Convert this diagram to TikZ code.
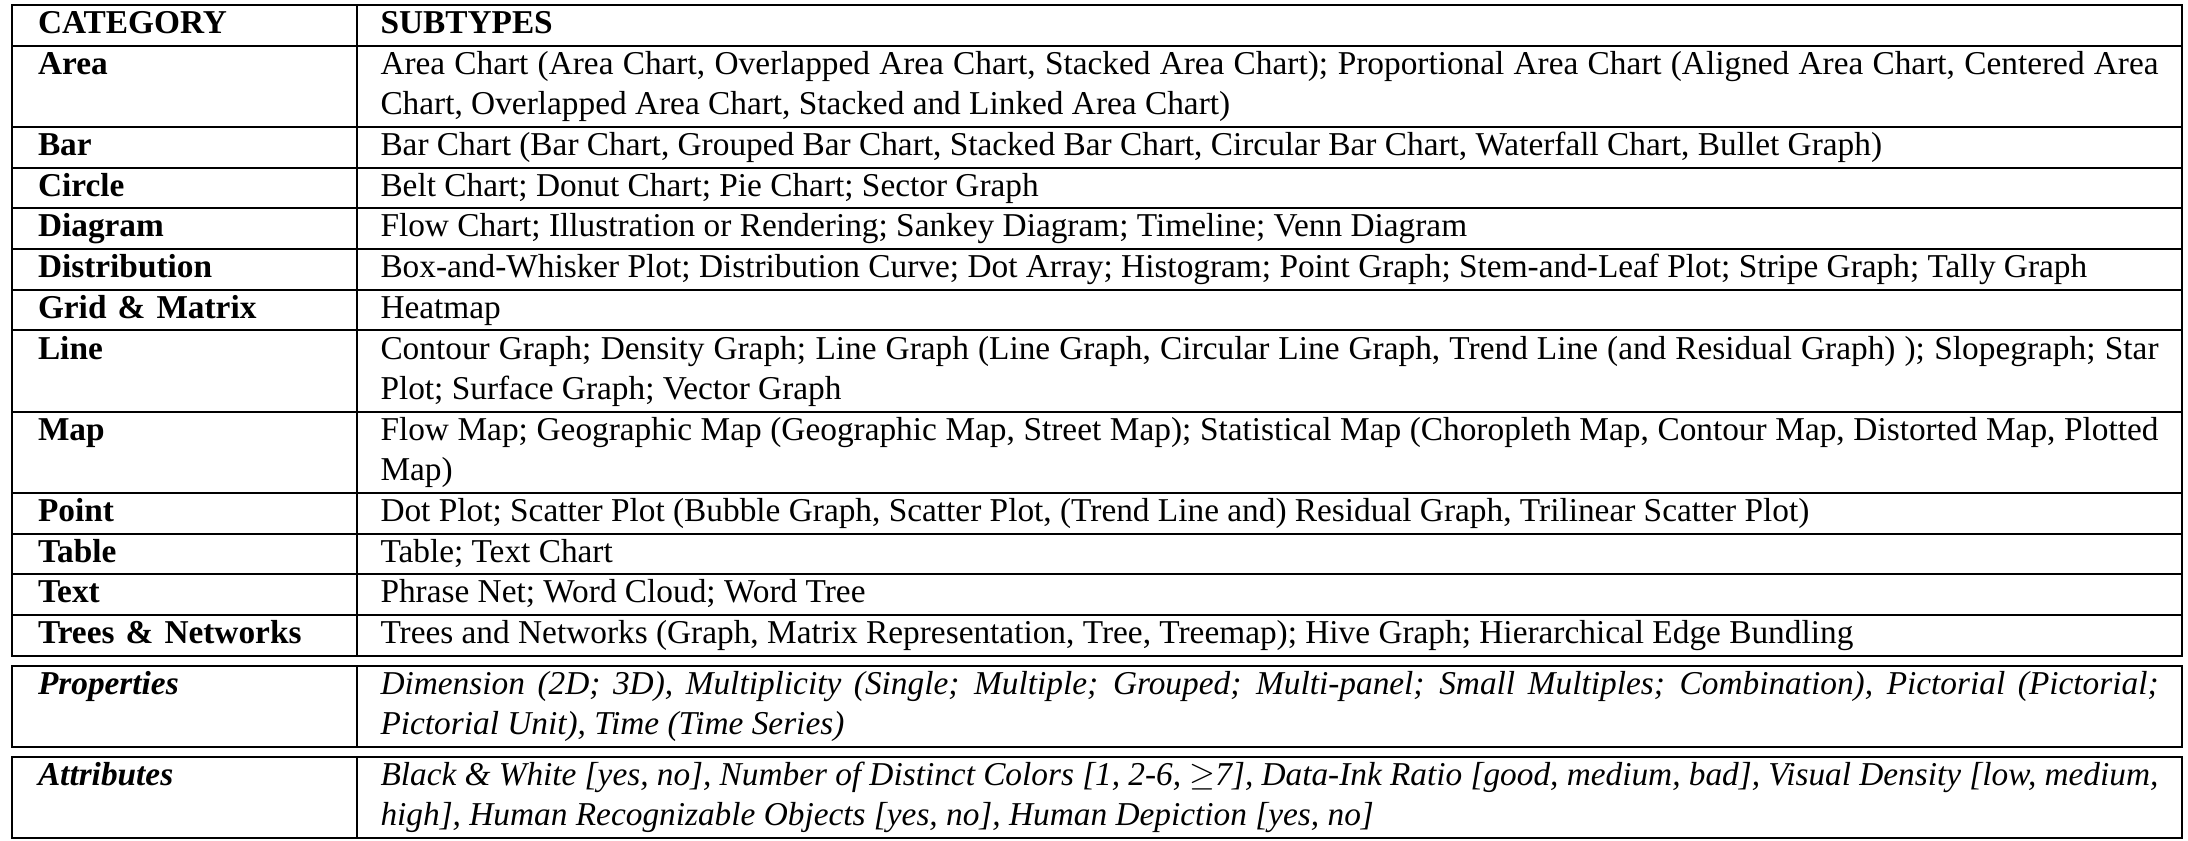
\documentclass[tikz,border=0pt]{standalone}
\usepackage{fontspec}
\setmainfont{Liberation Serif}
\usepackage{tikz}

\begin{document}
\begin{tikzpicture}[cat/.style={rectangle, draw=black, line width=0.6pt, outer sep=0pt, inner xsep=7.8pt, inner ysep=0, text width=87.9pt, minimum height=12.2pt, align=left, font=\bfseries, execute at begin node=\strut, execute at end node=\strut},
	sub/.style={rectangle, draw=black, line width=0.6pt, outer sep=0pt, inner xsep=7.05pt, inner ysep=0, text width=533.4pt, minimum height=12.2pt, align=justify, execute at begin node=\strut, execute at end node=\strut},
	tall/.style={minimum height=24.4pt},
	tallcat/.style={tall, execute at end node={\\\strut}},
	extra/.style={font=\bfseries\itshape}]

		\useasboundingbox (0,0) rectangle (656.4pt,-252pt);
		%header
		\node[cat,below right] at (3.6pt,-1.5pt) (c0) {CATEGORY};
		\node[sub,right,font=\bfseries] at (c0.east) (s0) {SUBTYPES};
		%categories
		\node[cat,below,tallcat] at (c0.south) (c1) {Area};
		\node[sub,right,tall] at (c1.east) (s1) {Area Chart (Area Chart, Overlapped Area Chart, Stacked Area Chart); Proportional Area Chart (Aligned Area Chart, Centered Area\linebreak Chart, Overlapped Area Chart, Stacked and Linked Area Chart)};
		\node[cat,below] at (c1.south) (c2) {Bar};
		\node[sub,right] at (c2.east) (s2) {Bar Chart (Bar Chart, Grouped Bar Chart, Stacked Bar Chart, Circular Bar Chart, Waterfall Chart, Bullet Graph)};
		\node[cat,below] at (c2.south) (c3) {Circle};
		\node[sub,right] at (c3.east) (s3) {Belt Chart; Donut Chart; Pie Chart; Sector Graph};
		\node[cat,below] at (c3.south) (c4) {Diagram};
		\node[sub,right] at (c4.east) (s4) {Flow Chart; Illustration or Rendering; Sankey Diagram; Timeline; Venn Diagram};
		\node[cat,below] at (c4.south) (c5) {Distribution};
		\node[sub,right] at (c5.east) (s5) {Box-and-Whisker Plot; Distribution Curve; Dot Array; Histogram; Point Graph; Stem-and-Leaf Plot; Stripe Graph; Tally Graph};
		\node[cat,below] at (c5.south) (c6) {Grid \& Matrix};
		\node[sub,right] at (c6.east) (s6) {Heatmap};
		\node[cat,below,tallcat] at (c6.south) (c7) {Line};
		\node[sub,right,tall] at (c7.east) (s7) {Contour Graph; Density Graph; Line Graph (Line Graph, Circular Line Graph, Trend Line (and Residual Graph) ); Slopegraph; Star\linebreak Plot; Surface Graph; Vector Graph};
		\node[cat,below,tallcat] at (c7.south) (c8) {Map};
		\node[sub,right,tall] at (c8.east) (s8) {Flow Map; Geographic Map (Geographic Map, Street Map); Statistical Map (Choropleth Map, Contour Map, Distorted Map, Plotted\linebreak Map)};
		\node[cat,below] at (c8.south) (c9) {Point};
		\node[sub,right] at (c9.east) (s9) {Dot Plot; Scatter Plot (Bubble Graph, Scatter Plot, (Trend Line and) Residual Graph, Trilinear Scatter Plot)};
		\node[cat,below] at (c9.south) (c10) {Table};
		\node[sub,right] at (c10.east) (s10) {Table; Text Chart};
		\node[cat,below] at (c10.south) (c11) {Text};
		\node[sub,right] at (c11.east) (s11) {Phrase Net; Word Cloud; Word Tree};
		\node[cat,below] at (c11.south) (c12) {Trees \& Networks};
		\node[sub,right] at (c12.east) (s12) {Trees and Networks (Graph, Matrix Representation, Tree, Treemap); Hive Graph; Hierarchical Edge Bundling};
		%properties and attributes
		\node[cat,below,tallcat,extra] at ([yshift=-3pt]c12.south) (c13) {Properties};
		\node[sub,right,tall,font=\itshape] at (c13.east) (s13) {Dimension (2D; 3D), Multiplicity (Single; Multiple; Grouped; Multi-panel; Small Multiples; Combination), Pictorial (Pictorial;\linebreak Pictorial Unit), Time (Time Series)};
		\node[cat,below,tallcat,extra] at ([yshift=-3pt]c13.south) (c14) {Attributes};
		\node[sub,right,tall,font=\itshape] at (c14.east) (s14) {Black \& White [yes, no], Number of Distinct Colors [1, 2-6, $\geq$7], Data-Ink Ratio [good, medium, bad], Visual Density [low, medium,\linebreak high], Human Recognizable Objects [yes, no], Human Depiction [yes, no]};
	\end{tikzpicture}
\end{document}
